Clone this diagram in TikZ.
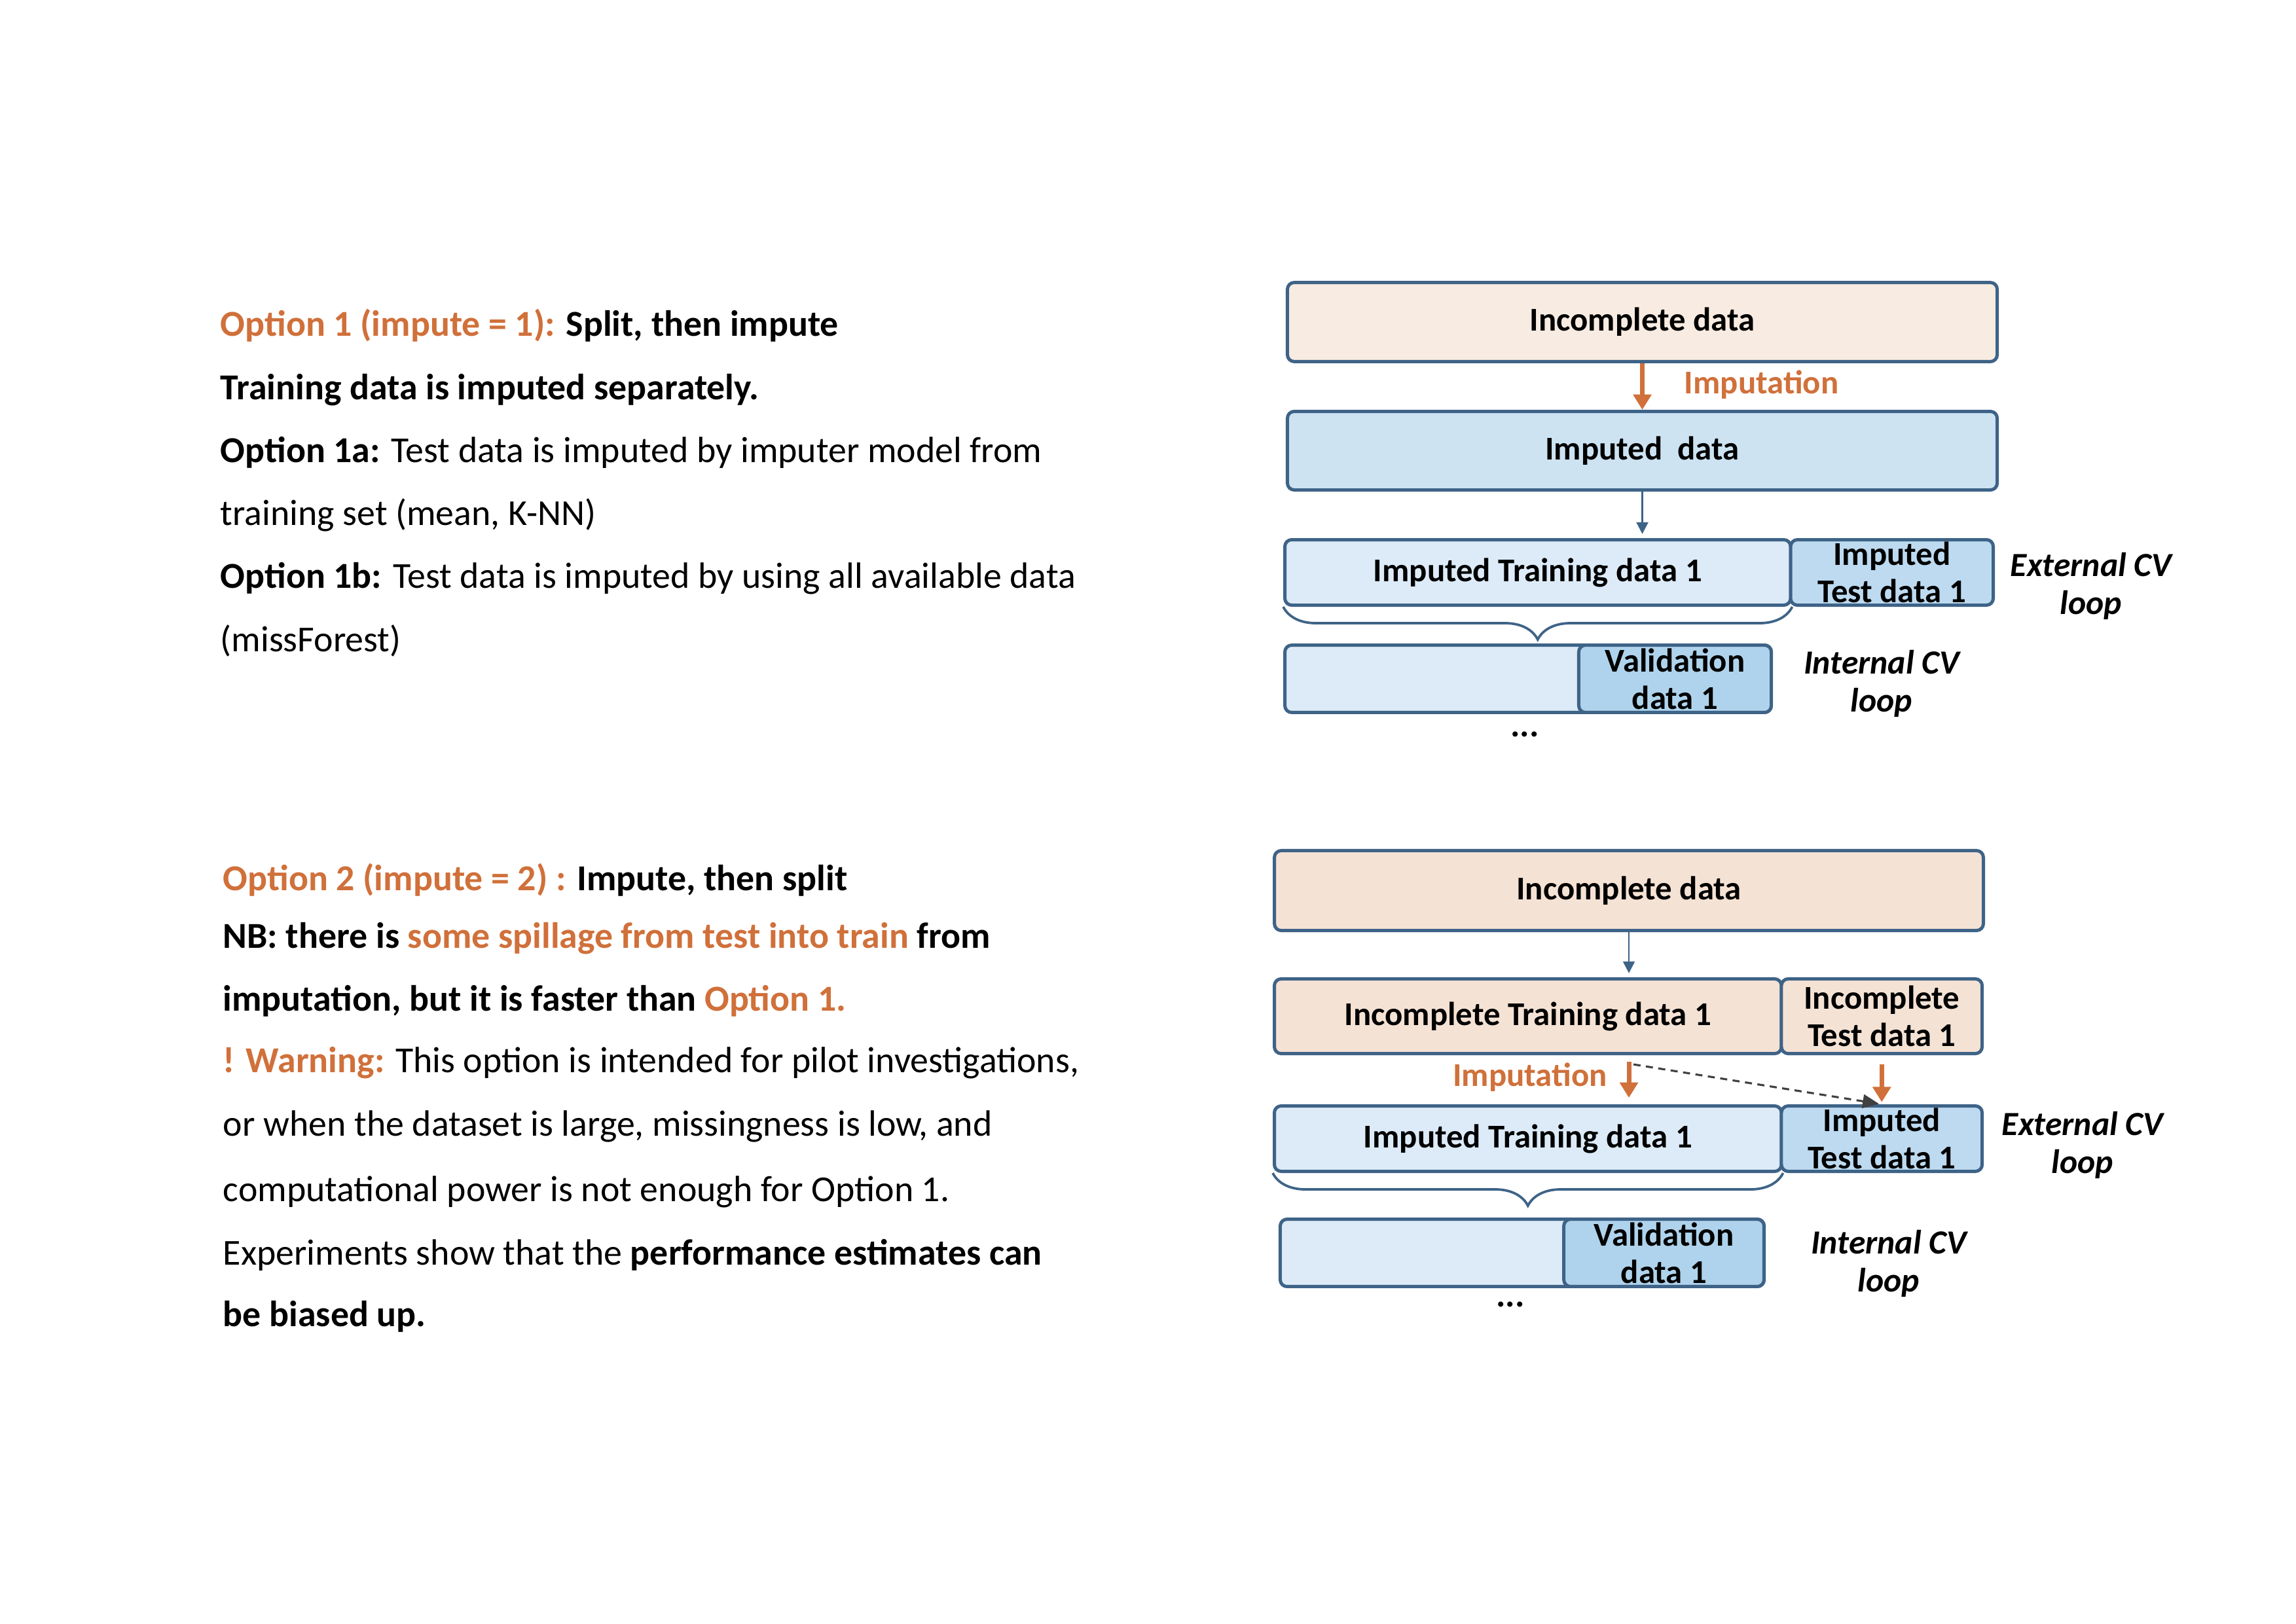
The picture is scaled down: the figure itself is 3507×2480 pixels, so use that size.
\documentclass[tikz,border=0pt]{standalone}
\usepackage{fontspec}
\setmainfont{Carlito}
\usetikzlibrary{arrows.meta,decorations.pathreplacing,calc}
\definecolor{bord}{HTML}{3E6387}
\definecolor{orng}{HTML}{D0703A}
\definecolor{peachA}{HTML}{F8EBE1}
\definecolor{peachB}{HTML}{F4E2D4}
\definecolor{blueA}{HTML}{CDE3F2}
\definecolor{blueL}{HTML}{DCEBF7}
\definecolor{blueM}{HTML}{BDDAF0}
\definecolor{blueD}{HTML}{AFD3EC}
\definecolor{dgray}{HTML}{404040}
\begin{document}
\begin{tikzpicture}[x=0.24pt,y=-0.24pt,
  box/.style={draw=bord, line width=1.2pt, rounded corners=2.5pt, inner sep=0pt, align=center,
    font=\fontsize{12.2}{13.7}\selectfont\bfseries},
  txt/.style={anchor=base west, inner sep=0pt, font=\fontsize{13.4}{15}\selectfont},
  side/.style={inner sep=0pt, align=center, font=\fontsize{12.4}{13.9}\selectfont\bfseries\itshape},
  implabel/.style={inner sep=0pt, text=orng, font=\fontsize{12.2}{13.7}\selectfont\bfseries},
  oarr/.style={draw=orng, line width=1.7pt, -{Triangle[width=6.5pt,length=5.6pt]}},
  barr/.style={draw=bord, line width=0.6pt, -{Triangle[width=4.3pt,length=4.3pt]}},
  darr/.style={draw=dgray, line width=0.75pt, dash pattern=on 2.6pt off 2pt, -{Triangle[width=5pt,length=6pt]}},
  brc/.style={draw=bord, line width=0.9pt, decorate, decoration={brace, mirror, amplitude=12pt}},
  dots/.style={inner sep=0pt, font=\fontsize{13}{14}\selectfont\bfseries}
]
\useasboundingbox (0,0) rectangle (3507,2480);

% ---------- Left text, option 1 ----------
\node[txt] (t1) at (336,513) {\bfseries\textcolor{orng}{Option 1 (impute = 1):} Split, then impute};
\node[txt] (t2) at (336,610) {\bfseries Training data is imputed separately.};
\node[txt] (t3) at (336,706) {\textbf{Option 1a:} Test data is imputed by imputer model from};
\node[txt] (t4) at (336,802) {training set (mean, K-NN)};
\node[txt] (t5) at (336,898) {\textbf{Option 1b:} Test data is imputed by using all available data};
\node[txt] (t6) at (336,995) {(missForest)};

% ---------- Left text, option 2 ----------
\node[txt] (u1) at (340,1360) {\bfseries\textcolor{orng}{Option 2 (impute = 2) :} Impute, then split};
\node[txt] (u2) at (340,1448) {\bfseries NB: there is \textcolor{orng}{some spillage from test into train} from};
\node[txt] (u3) at (340,1544) {\bfseries imputation, but it is faster than \textcolor{orng}{Option 1.}};
\node[txt] (u4) at (340,1638) {\textcolor{orng}{\bfseries ! Warning:} This option is intended for pilot investigations,};
\node[txt] (u5) at (340,1735) {or when the dataset is large, missingness is low, and};
\node[txt] (u6) at (340,1835) {computational power is not enough for Option 1.};
\node[txt] (u7) at (340,1932) {Experiments show that the \textbf{performance estimates can}};
\node[txt] (u8) at (340,2026) {\bfseries be biased up.};

% ---------- Top diagram ----------
\node[box, fill=peachA, minimum width=260.2pt, minimum height=29pt] (inc1) at (2508.5,492) {Incomplete data};
\node[box, fill=blueA, minimum width=260.2pt, minimum height=28.8pt] (imp1) at (2508.5,688.5) {Imputed\ \ data};
\node[box, fill=blueL, minimum width=185.4pt, minimum height=24pt] (trn1) at (2348.75,874.5) {Imputed Training data 1};
\node[box, fill=blueM, minimum width=74.3pt, minimum height=24pt] (tst1) at (2889.75,874.5) {Imputed\\Test data 1};
\node[box, fill=blueL, minimum width=178.3pt, minimum height=24.7pt] (val1o) at (2334,1037) {};
\node[box, fill=blueD, minimum width=70.6pt, minimum height=24.7pt] (val1) at (2558.5,1037) {Validation\\data 1};
\node[dots] (dot1) at (2329,1122) {...};
\node[side] (ext1) at (3194,895) {External CV\\loop};
\node[side] (int1) at (2874,1044) {Internal CV\\loop};
\node[implabel, anchor=west] (il1) at (2572,588) {Imputation};

\draw[oarr] (inc1.south) -- (imp1.north);
\draw[barr, shorten >=1.5pt] (imp1.south) -- (imp1.south |- trn1.north);
\draw[brc] (trn1.south west) -- (trn1.south east);

% ---------- Bottom diagram ----------
\node[box, fill=peachB, minimum width=259.9pt, minimum height=29.3pt] (inc2) at (2488,1360.5) {Incomplete data};
\node[box, fill=peachB, minimum width=185.9pt, minimum height=27.4pt] (itr2) at (2333.75,1552.5) {Incomplete Training data 1};
\node[box, fill=peachB, minimum width=73.6pt, minimum height=27.4pt] (its2) at (2874.25,1552.5) {Incomplete\\Test data 1};
\node[box, fill=blueL, minimum width=185.9pt, minimum height=24pt] (mtr2) at (2333.75,1739.5) {Imputed Training data 1};
\node[box, fill=blueM, minimum width=73.6pt, minimum height=24pt] (mts2) at (2874.25,1739.5) {Imputed\\Test data 1};
\node[box, fill=blueL, minimum width=177.4pt, minimum height=24.7pt] (val2o) at (2325,1914) {};
\node[box, fill=blueD, minimum width=73.4pt, minimum height=24.7pt] (val2) at (2541.5,1914) {Validation\\data 1};
\node[dots] (dot2) at (2307,1993) {...};
\node[side] (ext2) at (3181,1749) {External CV\\loop};
\node[side] (int2) at (2885,1930) {Internal CV\\loop};
\node[implabel] (il2) at (2337,1646) {Imputation};

\draw[barr, shorten >=1.5pt] (inc2.south) -- (inc2.south |- itr2.north);
\coordinate (oa2s) at ($(itr2.south -| inc2.south)+(0,10)$);
\coordinate (oa2e) at ($(mtr2.north -| inc2.south)+(0,-10)$);
\draw[oarr] (oa2s) -- (oa2e);
\coordinate (ob2s) at ($(its2.south)+(0,14)$);
\draw[oarr, shorten >=0.8pt] (ob2s) -- (mts2.north);
\coordinate (ds) at ($(itr2.south -| inc2.south)+(7,14)$);
\draw[darr, shorten >=1pt] (ds) -- (mts2.north);
\draw[brc] (mtr2.south west) -- (mtr2.south east);
\end{tikzpicture}
\end{document}
